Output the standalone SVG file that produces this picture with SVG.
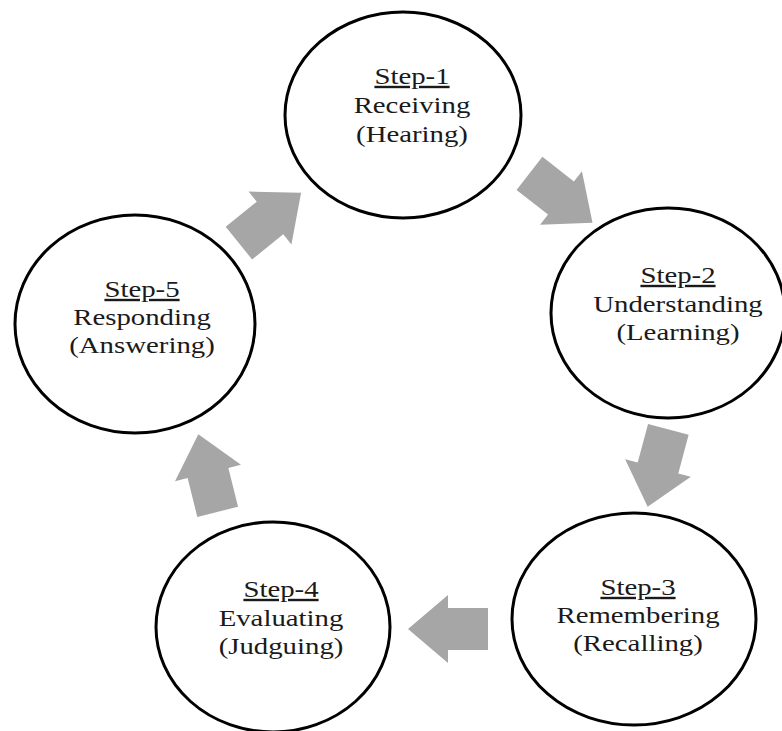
<svg xmlns="http://www.w3.org/2000/svg" width="782" height="731" viewBox="0 0 782 731">
<style>
.node ellipse{fill:#fff;stroke:#000;stroke-width:3}
.node text{font-family:"Liberation Serif","Times New Roman",serif;font-size:24px;fill:#1a1a1a;text-anchor:middle}
.u{text-decoration:underline}
.arr{fill:#a6a6a6}
</style>
<defs>
<polygon id="ba" points="-40,-21 0,-21 0,-34 40,0 0,34 0,21 -40,21"/>
</defs>
<rect width="782" height="731" fill="#fff"/>
<g id="connectors">
<use href="#ba" class="arr" transform="translate(561,198) rotate(38)"/>
<use href="#ba" class="arr" transform="translate(658,468) rotate(105)"/>
<use href="#ba" class="arr" transform="translate(448,629) rotate(180)"/>
<use href="#ba" class="arr" transform="translate(208,473) rotate(-104)"/>
<use href="#ba" class="arr" transform="translate(270,218) rotate(-39)"/>
</g>
<g id="step1" class="node">
<ellipse cx="403" cy="115" rx="118" ry="103"/>
<g transform="translate(412,0) scale(1.2,1)">
<text class="u" x="0" y="84">Step-1</text>
<text x="0" y="113">Receiving</text>
<text x="0" y="142">(Hearing)</text>
</g>
</g>
<g id="step2" class="node">
<ellipse cx="668" cy="313" rx="117" ry="105"/>
<g transform="translate(678,0) scale(1.2,1)">
<text class="u" x="0" y="283">Step-2</text>
<text x="0" y="312">Understanding</text>
<text x="0" y="340">(Learning)</text>
</g>
</g>
<g id="step3" class="node">
<ellipse cx="634" cy="619" rx="122" ry="106"/>
<g transform="translate(638,0) scale(1.2,1)">
<text class="u" x="0" y="595">Step-3</text>
<text x="0" y="623">Remembering</text>
<text x="0" y="651">(Recalling)</text>
</g>
</g>
<g id="step4" class="node">
<ellipse cx="273" cy="627" rx="117" ry="105"/>
<g transform="translate(281,0) scale(1.2,1)">
<text class="u" x="0" y="597">Step-4</text>
<text x="0" y="626">Evaluating</text>
<text x="0" y="654">(Judguing)</text>
</g>
</g>
<g id="step5" class="node">
<ellipse cx="135" cy="324" rx="120" ry="109"/>
<g transform="translate(142,0) scale(1.2,1)">
<text class="u" x="0" y="297">Step-5</text>
<text x="0" y="325">Responding</text>
<text x="0" y="353">(Answering)</text>
</g>
</g>
</svg>
